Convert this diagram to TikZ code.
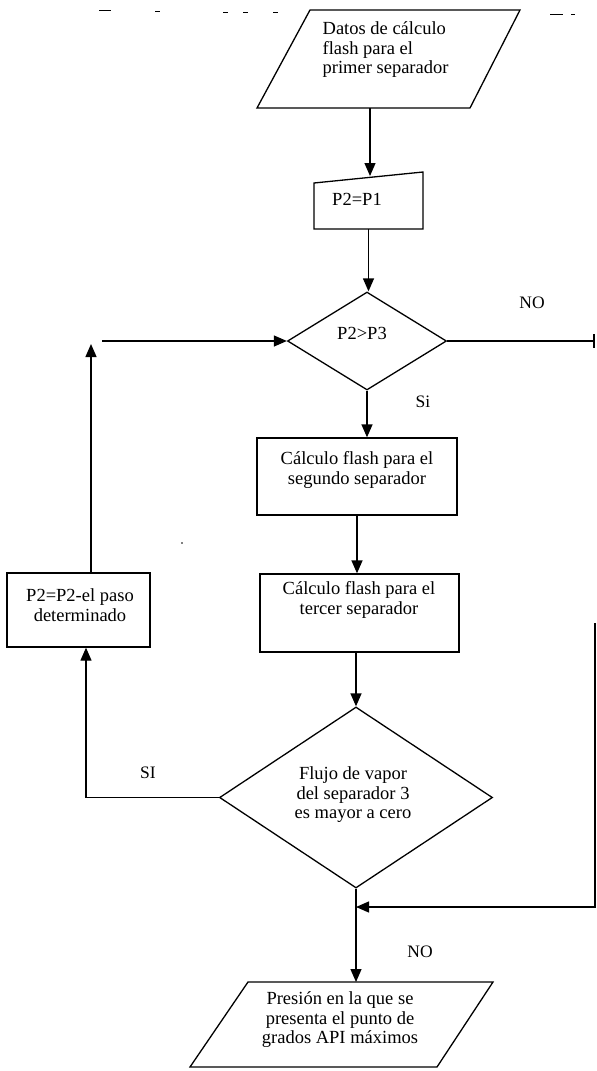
\documentclass[tikz,border=0pt]{standalone}
\usepackage{fontspec}
\setmainfont{Liberation Serif}
\usetikzlibrary{arrows.meta,shapes.geometric,calc}
\begin{document}
\begin{tikzpicture}[x=1pt,y=-1pt,
  line width=1.3pt,
  arr/.style={-{Triangle[length=13pt,width=11pt]}},
  frame/.style={inner sep=0pt,outer sep=0pt},
  boxnode/.style={draw,rectangle,inner sep=0pt},
  decision/.style={draw,diamond,inner sep=0pt},
  txt/.style={font=\fontsize{18.5}{19.5}\selectfont,align=center,inner sep=0pt},
  lab/.style={font=\fontsize{17.5}{19}\selectfont,inner sep=0pt},
  speck/.style={line width=0.9pt}]
\useasboundingbox (0,0) rectangle (597,1071);

% scan specks along the top edge
\draw[speck] (99,10) -- (111,10);
\draw[speck] (155,11) -- (160,11);
\draw[speck] (223,12) -- (228,12);
\draw[speck] (243,12) -- (248,12);
\draw[speck] (273,12) -- (278,12);
\draw[speck] (550,14) -- (563,14);
\draw[speck] (571,14) -- (575,14);
\fill (182,543) circle (0.9);

% top input (parallelogram)
\node[frame,minimum width=263pt,minimum height=98pt] (in1) at (388.5,59) {};
\draw (in1.south west) -- ($(in1.north west)+(53,0)$) -- (in1.north east)
      -- ($(in1.south east)+(-50,0)$) -- cycle;
\node[txt,align=left,anchor=west] (tin1) at (322,50) {Datos de cálculo\\flash para el\\primer separador};

% manual input P2=P1
\node[frame,minimum width=109pt,minimum height=57pt] (p21) at (368.5,200.5) {};
\draw (p21.south west) -- ($(p21.north west)+(0,11)$) -- (p21.north east)
      -- (p21.south east) -- cycle;
\node[txt] (tp21) at (357,199) {P2=P1};

% decision P2>P3
\node[decision,minimum width=159pt,minimum height=98pt] (d1) at (367,341) {};
\node[txt] (td1) at (362,333) {P2>P3};

% process boxes
\node[boxnode,minimum width=200pt,minimum height=77pt] (b2) at (357,476.5) {};
\node[txt] (tb2) at (357,470) {Cálculo flash para el\\segundo separador};
\node[boxnode,minimum width=199pt,minimum height=78pt] (b3) at (359.5,613) {};
\node[txt] (tb3) at (359,600) {Cálculo flash para el\\tercer separador};
\node[boxnode,minimum width=143pt,minimum height=74pt] (bl) at (78.5,610) {};
\node[txt] (tbl) at (80,605) {P2=P2-el paso\\determinado};

% decision vapor flow
\node[decision,minimum width=273pt,minimum height=181pt] (d2) at (356,797.5) {};
\node[txt] (td2) at (353,795) {Flujo de vapor\\del separador 3\\es mayor a cero};

% output (parallelogram)
\node[frame,minimum width=303pt,minimum height=85pt] (out) at (341.5,1024.5) {};
\draw (out.south west) -- ($(out.north west)+(58,0)$) -- (out.north east)
      -- ($(out.south east)+(-56,0)$) -- cycle;
\node[txt] (tout) at (340,1020) {Presión en la que se\\presenta el punto de\\grados API máximos};

% helper coordinates
\coordinate (a0) at (370,108);
\coordinate (r1) at (595,341);
\coordinate (r2) at (595,623);
\coordinate (r3) at (595,907);
\coordinate (j) at (356,907);
\coordinate (sl) at (86,797.5);
\coordinate (ul) at (91,344);
\coordinate (hl) at (102,341);

% connectors
\draw[arr] (a0) -- (a0 |- 0,176);
\draw[arr] (p21.south) -- (p21.south |- d1.north);
\draw[arr] (d1.south) -- (d1.south |- b2.north);
\draw[arr] (b2.south) -- (b2.south |- b3.north);
\draw[arr] (d2.north |- b3.south) -- (d2.north);
\draw[arr] (d2.south) -- (d2.south |- out.north);
\draw[-{Bar[width=14pt,line width=1.8pt]}] (d1.east) -- (r1);
\draw[arr] (r2) -- (r3) -- (j);
\draw[arr] (d2.west) -- (sl) -- (sl |- bl.south);
\draw[arr] (ul |- bl.north) -- (ul);
\draw[arr] (hl) -- (d1.west);

% branch labels
\node[lab] (lno1) at (532,303) {NO};
\node[lab] (lsi1) at (423,402) {Si};
\node[lab] (lsi2) at (148,773) {SI};
\node[lab] (lno2) at (420,952) {NO};
\end{tikzpicture}
\end{document}
